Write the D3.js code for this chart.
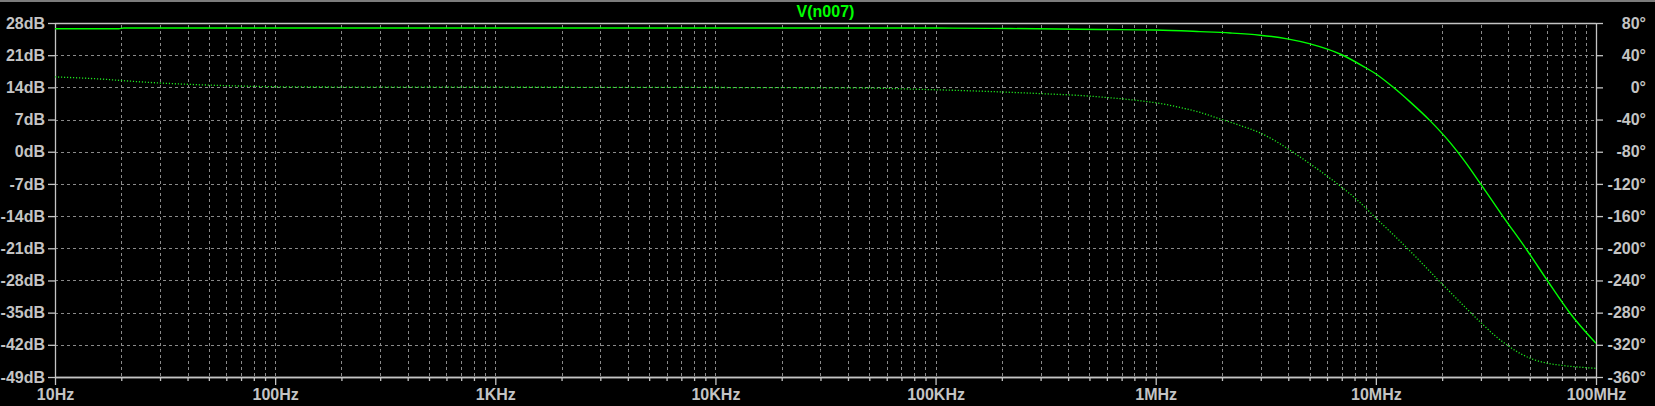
<!DOCTYPE html>
<html>
<head>
<meta charset="utf-8">
<script src="https://cdn.jsdelivr.net/npm/d3@7"></script>
<style>
html,body{margin:0;padding:0;background:#000;overflow:hidden;}
svg{display:block;}
</style>
</head>
<body>
<svg id="chart" width="1655" height="406"></svg>
<script>
// ---- data ----
const title = "V(n007)";
const freqTicks = [10, 100, 1e3, 1e4, 1e5, 1e6, 1e7, 1e8];
const freqLabels = ["10Hz", "100Hz", "1KHz", "10KHz", "100KHz", "1MHz", "10MHz", "100MHz"];
const dbTicks = [-49, -42, -35, -28, -21, -14, -7, 0, 7, 14, 21, 28];
const degTicks = [-360, -320, -280, -240, -200, -160, -120, -80, -40, 0, 40, 80];

const magFreq = [10, 19.5, 20.5, 1e3, 1e5, 2.2e5, 5.6e5, 1.0e6, 1.59e6, 2.18e6, 2.98e6, 3.96e6, 4.98e6, 6.96e6, 8.95e6, 9.94e6, 1.2e7, 1.43e7, 1.766e7, 2.18e7, 2.55e7, 2.98e7, 3.79e7, 4.87e7, 6.01e7, 7.64e7, 1e8];
const magDb   = [26.75, 26.75, 26.9, 26.9, 26.9, 26.8, 26.6, 26.48, 26.13, 25.83, 25.35, 24.56, 23.52, 21.15, 18.32, 17.02, 14.01, 10.84, 6.71, 1.92, -2.25, -6.89, -14.15, -21.48, -28.01, -35.18, -41.67];

const phFreq = [10, 16, 22, 30, 41, 62, 130, 1e3, 8e3, 2e4, 4.84e4, 8.07e4, 1.335e5, 1.966e5, 2.98e5, 4.54e5, 6.21e5, 8.07e5, 1.048e6, 1.292e6, 1.593e6, 1.903e6, 2.42e6, 2.984e6, 4.0e6, 4.535e6, 5.59e6, 6.89e6, 8.32e6, 9.94e6, 1.389e7, 1.96e7, 2.98e7, 3.49e7, 4.0e7, 4.53e7, 5.19e7, 5.94e7, 6.88e7, 1e8];
const phDeg  = [13, 10.4, 7.7, 5.4, 3.7, 2.0, 0.5, 0.2, -0.1, -0.4, -0.79, -2.28, -4.02, -5.64, -7.75, -10.11, -12.97, -15.95, -20.05, -25.0, -31.2, -38.1, -47.4, -56.7, -76.6, -86.7, -104.0, -122.7, -141.2, -161.7, -200.0, -241.9, -291.6, -309.0, -321.5, -330.8, -338.2, -342.6, -345.3, -349.2];

// ---- layout ----
const L = 55, R = 1596, T = 23, B = 377;
const svg = d3.select("#chart");
svg.append("rect").attr("x",0).attr("y",0).attr("width",1655).attr("height",406).attr("fill","#000");
svg.append("rect").attr("x",0).attr("y",0).attr("width",1655).attr("height",2).attr("fill","#7c7c7c");

const x = d3.scaleLog().domain([10, 1e8]).range([L, R]);
const yDb = d3.scaleLinear().domain([-49, 28]).range([B, T]);
const yDeg = d3.scaleLinear().domain([-360, 80]).range([B, T]);

// minor frequency positions
const minorF = [];
for (let dec = 10; dec < 1e8; dec *= 10) for (let m = 2; m <= 9; m++) minorF.push(dec * m);
const allF = freqTicks.concat(minorF);

const gridColor = "#8a8a8a";
const axisColor = "#c4c4c4";
const textColor = "#c4c4c4";
const font = "'Liberation Sans', Arial, sans-serif";

// grid
const grid = svg.append("g");
grid.selectAll("line.v").data(allF.filter(f => f > 10 && f < 1e8)).join("line")
  .attr("x1", d => Math.round(x(d)) + 0.5).attr("x2", d => Math.round(x(d)) + 0.5)
  .attr("y1", T + 2).attr("y2", B)
  .attr("stroke", gridColor).attr("stroke-width", 1).attr("stroke-dasharray", "3,3");
grid.selectAll("line.h").data(dbTicks.filter(d => d > -49 && d < 28)).join("line")
  .attr("x1", L).attr("x2", R)
  .attr("y1", d => Math.round(yDb(d)) + 0.5).attr("y2", d => Math.round(yDb(d)) + 0.5)
  .attr("stroke", gridColor).attr("stroke-width", 1).attr("stroke-dasharray", "3,3");

// axes
function styleAxis(g) {
  g.selectAll("path.domain").attr("stroke", axisColor).attr("stroke-width", 1.3);
  g.selectAll(".tick line").attr("stroke", axisColor).attr("stroke-width", 1.3);
  g.selectAll("text").attr("fill", textColor).style("font-family", font)
    .style("font-size", "16px").style("font-weight", "bold");
}
const gl = svg.append("g").attr("transform", `translate(${L},0)`)
  .call(d3.axisLeft(yDb).tickValues(dbTicks).tickFormat(d => d + "dB").tickSize(7).tickSizeOuter(0).tickPadding(3));
styleAxis(gl);

const gr = svg.append("g").attr("transform", `translate(${R},0)`)
  .call(d3.axisRight(yDeg).tickValues(degTicks).tickFormat(d => d + "°").tickSize(7).tickSizeOuter(0).tickPadding(3));
styleAxis(gr);
gr.selectAll("text").attr("text-anchor", "end").attr("x", 50);

const gbMinor = svg.append("g").attr("transform", `translate(0,${B})`)
  .call(d3.axisBottom(x).tickValues(minorF).tickFormat("").tickSize(4).tickSizeOuter(0));
styleAxis(gbMinor);
const gb = svg.append("g").attr("transform", `translate(0,${B})`)
  .call(d3.axisBottom(x).tickValues(freqTicks).tickFormat((d, i) => freqLabels[i]).tickSize(8).tickSizeOuter(0).tickPadding(4));
styleAxis(gb);

// top line
svg.append("line").attr("x1", L).attr("x2", R).attr("y1", T + 0.5).attr("y2", T + 0.5)
  .attr("stroke", axisColor).attr("stroke-width", 1.3);

// title
svg.append("text").attr("x", (L + R) / 2).attr("y", 17).attr("text-anchor", "middle")
  .attr("fill", "#00ff00").style("font-family", font).style("font-size", "16px").style("font-weight", "bold")
  .text(title);

// clip
svg.append("clipPath").attr("id", "plot").append("rect")
  .attr("x", L).attr("y", T).attr("width", R - L).attr("height", B - T);
const plot = svg.append("g").attr("clip-path", "url(#plot)");

const magData = magFreq.map((f, i) => [f, magDb[i]]);
const phData = phFreq.map((f, i) => [f, phDeg[i]]);

plot.append("path").datum(magData)
  .attr("d", d3.line().x(d => x(d[0])).y(d => yDb(d[1])).curve(d3.curveMonotoneX))
  .attr("fill", "none").attr("stroke", "#00ff00").attr("stroke-width", 1.4);

plot.append("path").datum(phData)
  .attr("d", d3.line().x(d => x(d[0])).y(d => yDeg(d[1])).curve(d3.curveMonotoneX))
  .attr("fill", "none").attr("stroke", "#1ee81e").attr("stroke-width", 1.3).attr("stroke-dasharray", "1.2,1.8");
</script>
</body>
</html>
